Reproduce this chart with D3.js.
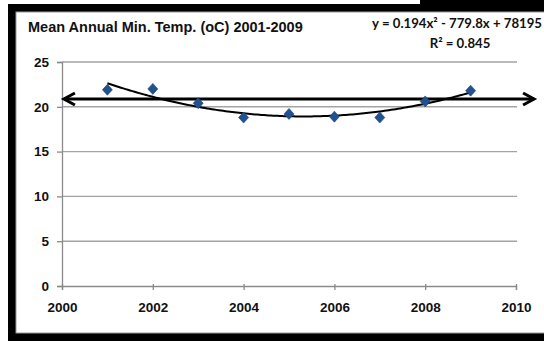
<!DOCTYPE html>
<html><head><meta charset="utf-8">
<script src="https://cdn.jsdelivr.net/npm/d3@7"></script>
<style>html,body{margin:0;padding:0;background:#fff;overflow:hidden}</style>
</head><body>
<svg id="c" width="544" height="341"></svg>
<script>
const title = "Mean Annual Min. Temp. (oC) 2001-2009";
const equationText = ["y = 0.194x² - 779.8x + 78195", "R² = 0.845"];
const years = [2001, 2002, 2003, 2004, 2005, 2006, 2007, 2008, 2009];
const temps = [21.9, 22.0, 20.4, 18.8, 19.2, 18.9, 18.8, 20.6, 21.8];
const xTicks = [2000, 2002, 2004, 2006, 2008, 2010];
const yTicks = [0, 5, 10, 15, 20, 25];
const arrowLevel = [20.87];
const arrowSpan = [2000.02, 2010.42];

const svg = d3.select("#c");
const x = d3.scaleLinear().domain([2000, 2010]).range([62, 516]);
const y = d3.scaleLinear().domain([0, 25]).range([286, 62]);

// frame
svg.append("rect").attr("x", 8).attr("y", 4).attr("width", 560).attr("height", 337).attr("fill", "#000");
svg.append("rect").attr("x", 16).attr("y", 12).attr("width", 560).attr("height", 321).attr("fill", "#fff")
  .attr("stroke", "#9a9a9a").attr("stroke-width", 1);
svg.append("rect").attr("x", 0).attr("y", 0).attr("width", 544).attr("height", 4).attr("fill", "#fff");
svg.append("rect").attr("x", 420).attr("y", 0).attr("width", 124).attr("height", 8).attr("fill", "#000");

// gridlines
svg.append("g").selectAll("line").data(yTicks.filter(d => d > 0)).join("line")
  .attr("x1", x(2000)).attr("x2", x(2010) + 1)
  .attr("y1", d => y(d)).attr("y2", d => y(d))
  .attr("stroke", "#a3a3a3").attr("stroke-width", 1.4);

// y axis
const yAxis = svg.append("g").attr("transform", `translate(${x(2000)},0)`)
  .call(d3.axisLeft(y).tickValues(yTicks).tickSize(5).tickPadding(8));
yAxis.select(".domain").attr("stroke", "#8a8a8a").attr("stroke-width", 1.3);
yAxis.selectAll(".tick line").attr("stroke", "#8a8a8a").attr("stroke-width", 1.3);
yAxis.selectAll("text").attr("font-family", "Liberation Sans, Arial, sans-serif")
  .attr("font-weight", "bold").attr("font-size", "13.5px").attr("fill", "#111");

// x axis
const xAxis = svg.append("g").attr("transform", `translate(0,${y(0)})`)
  .call(d3.axisBottom(x).tickValues(xTicks).tickFormat(d3.format("d")).tickSize(4).tickPadding(12));
xAxis.select(".domain").attr("stroke", "#8a8a8a").attr("stroke-width", 1.3);
xAxis.selectAll(".tick line").attr("stroke", "#8a8a8a").attr("stroke-width", 1.3).attr("y1", -2);
xAxis.selectAll("text").attr("font-family", "Liberation Sans, Arial, sans-serif")
  .attr("font-weight", "bold").attr("font-size", "13.5px").attr("fill", "#111");

// quadratic least-squares fit
const n = years.length;
const t = years.map(v => v - d3.mean(years));
let S = {s0:n, s1:0, s2:0, s3:0, s4:0, y0:0, y1:0, y2:0};
t.forEach((tv, i) => {
  S.s1 += tv; S.s2 += tv*tv; S.s3 += tv**3; S.s4 += tv**4;
  S.y0 += temps[i]; S.y1 += tv*temps[i]; S.y2 += tv*tv*temps[i];
});
function solve3(A, b) {
  const M = A.map((r, i) => r.concat([b[i]]));
  for (let i = 0; i < 3; i++) {
    for (let k = i + 1; k < 3; k++) {
      const f = M[k][i] / M[i][i];
      for (let j = i; j < 4; j++) M[k][j] -= f * M[i][j];
    }
  }
  const r = [0, 0, 0];
  for (let i = 2; i >= 0; i--) {
    let s = M[i][3];
    for (let j = i + 1; j < 3; j++) s -= M[i][j] * r[j];
    r[i] = s / M[i][i];
  }
  return r;
}
const [c0, c1, c2] = solve3([[S.s0,S.s1,S.s2],[S.s1,S.s2,S.s3],[S.s2,S.s3,S.s4]], [S.y0,S.y1,S.y2]);
const ym = d3.mean(years);
const fit = yr => c0 + c1*(yr-ym) + c2*(yr-ym)**2;
const curveYears = d3.range(years[0], years[n-1] + 0.001, 0.05);
svg.append("path")
  .attr("d", d3.line().x(d => x(d)).y(d => y(fit(d)))(curveYears))
  .attr("fill", "none").attr("stroke", "#000").attr("stroke-width", 2);

// arrow
const ay = y(arrowLevel[0]);
const ax1 = x(arrowSpan[0]), ax2 = x(arrowSpan[1]);
svg.append("line").attr("x1", ax1 + 1).attr("x2", ax2 - 1).attr("y1", ay).attr("y2", ay)
  .attr("stroke", "#000").attr("stroke-width", 3);
svg.append("path").attr("d", `M${ax1+12},${ay-6}L${ax1+1},${ay}L${ax1+12},${ay+6}`)
  .attr("fill", "none").attr("stroke", "#000").attr("stroke-width", 3);
svg.append("path").attr("d", `M${ax2-12},${ay-6}L${ax2-1},${ay}L${ax2-12},${ay+6}`)
  .attr("fill", "none").attr("stroke", "#000").attr("stroke-width", 3);

// diamonds
svg.append("g").selectAll("path").data(years).join("path")
  .attr("transform", (d, i) => `translate(${x(d)},${y(temps[i])})`)
  .attr("d", "M0,-5.5L5,0L0,5.5L-5,0Z")
  .attr("fill", "#22518f").attr("stroke", "#1b4378").attr("stroke-width", 0.6);

// title
svg.append("text").attr("x", 28).attr("y", 32).text(title)
  .attr("font-family", "Liberation Sans, Arial, sans-serif").attr("font-weight", "bold")
  .attr("font-size", "14.5px").attr("fill", "#111");

// equation
svg.append("text").attr("x", 542).attr("y", 28).attr("text-anchor", "end").text(equationText[0])
  .attr("font-family", "Lato, sans-serif").attr("font-weight", "bold").attr("font-size", "13.2px").attr("fill", "#111");
svg.append("text").attr("x", 460).attr("y", 48).attr("text-anchor", "middle").text(equationText[1])
  .attr("font-family", "Lato, sans-serif").attr("font-weight", "bold").attr("font-size", "13.2px").attr("fill", "#111");
</script>
</body></html>
